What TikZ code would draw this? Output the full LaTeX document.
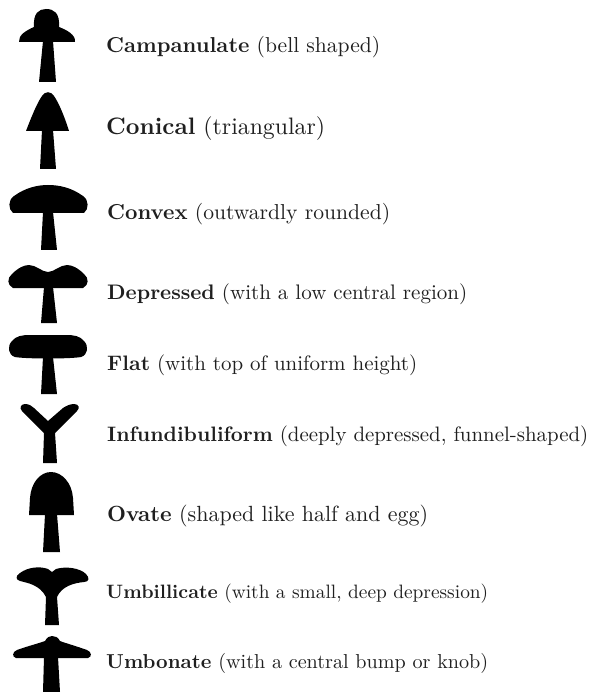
\documentclass[tikz,border=0pt]{standalone}
\usepackage{graphicx}
\begin{document}
\begin{tikzpicture}[x=1pt,y=-1pt,
  mushroom/.style={fill=black,draw=none},
  caption/.style={anchor=base west,inner sep=0pt,text=black!88}]
\useasboundingbox (0,0) rectangle (596,692);

% Campanulate
\fill[mushroom] (43,41) -- (39,82) -- (56,82) -- (53,41) -- cycle;
\fill[mushroom] (19,42) .. controls (18,35) and (27,30) .. (34,27)
  .. controls (33,13) and (39,9) .. (46,9) .. controls (54,9) and (60,13) .. (59,27)
  .. controls (67,30) and (76,35) .. (75,42) -- cycle;

% Conical
\fill[mushroom] (42,130) -- (40,169) -- (56,169) -- (53,130) -- cycle;
\fill[mushroom] (26,131) .. controls (31,118) and (37,103) .. (42,96)
  .. controls (45,91) and (51,91) .. (54,96)
  .. controls (59,103) and (65,118) .. (69,131) -- cycle;

% Convex
\fill[mushroom] (43,212) -- (41,250) -- (57,250) -- (53,212) -- cycle;
\fill[mushroom] (13,213) .. controls (8,209) and (8,200) .. (14,196)
  .. controls (25,188) and (37,185) .. (48,185)
  .. controls (60,185) and (72,188) .. (83,196)
  .. controls (89,200) and (89,209) .. (84,213) -- cycle;

% Depressed
\fill[mushroom] (44,287) -- (41,323) -- (57,323) -- (53,287) -- cycle;
\fill[mushroom] (13,288) .. controls (7,285) and (7,278) .. (12,274)
  .. controls (18,268) and (24,265) .. (29,265)
  .. controls (36,265) and (42,272) .. (48,272)
  .. controls (54,272) and (60,265) .. (67,265)
  .. controls (72,265) and (78,268) .. (84,274)
  .. controls (89,278) and (89,285) .. (83,288) -- cycle;

% Flat
\fill[mushroom] (43,357) -- (41,394) -- (57,394) -- (53,357) -- cycle;
\fill[mushroom] (15,357) .. controls (8,355) and (7,346) .. (12,341)
  .. controls (16,336) and (22,335) .. (30,335) -- (66,335)
  .. controls (74,335) and (80,336) .. (84,341)
  .. controls (89,346) and (88,355) .. (81,357)
  .. controls (70,359) and (26,359) .. (15,357) -- cycle;

% Infundibuliform
\fill[mushroom] (43,463) -- (44,433) -- (22,411)
  .. controls (19,408) and (21,404) .. (25,404)
  .. controls (29,404) and (32,406) .. (34,408) -- (48,421) -- (63,408)
  .. controls (66,406) and (70,404) .. (74,404)
  .. controls (79,404) and (80,408) .. (77,411) -- (55,433) -- (57,463) -- cycle;

% Ovate
\fill[mushroom] (45,514) -- (43,552) -- (60,552) -- (57,514) -- cycle;
\fill[mushroom] (29,515) -- (30,498) .. controls (31,483) and (40,472) .. (51,472)
  .. controls (62,472) and (72,483) .. (73,498) -- (74,515) -- cycle;

% Umbillicate
\fill[mushroom] (45,625) -- (46,597) .. controls (40,585) and (28,583) .. (20,581)
  .. controls (16,580) and (15,576) .. (20,573)
  .. controls (28,567) and (40,566) .. (48,569) -- (52,572) -- (56,569)
  .. controls (66,566) and (80,568) .. (86,574)
  .. controls (90,578) and (89,582) .. (84,582)
  .. controls (74,583) and (62,586) .. (57,597) -- (59,625) -- cycle;

% Umbonate
\fill[mushroom] (44,657) -- (43,692) -- (60,692) -- (58,657) -- cycle;
\fill[mushroom] (16,658) .. controls (12,657) and (12,652) .. (17,650)
  .. controls (28,646) and (40,643) .. (45,641)
  .. controls (47,637) and (50,636) .. (52,636)
  .. controls (55,636) and (58,637) .. (60,641)
  .. controls (65,643) and (76,646) .. (87,650)
  .. controls (92,652) and (92,657) .. (88,658) -- cycle;

% Captions
\node[caption] (campanulate) at (106,53)
  {\resizebox{274pt}{!}{\textbf{Campanulate} (bell shaped)}};
\node[caption] (conical) at (106,135)
  {\resizebox{219pt}{!}{\textbf{Conical} (triangular)}};
\node[caption] (convex) at (107,220)
  {\resizebox{283pt}{!}{\textbf{Convex} (outwardly rounded)}};
\node[caption] (depressed) at (107,299)
  {\resizebox{360pt}{!}{\textbf{Depressed} (with a low central region)}};
\node[caption] (flat) at (107,370)
  {\resizebox{310pt}{!}{\textbf{Flat} (with top of uniform height)}};
\node[caption] (infundibuliform) at (107,441)
  {\resizebox{481pt}{!}{\textbf{Infundibuliform} (deeply depressed, funnel-shaped)}};
\node[caption] (ovate) at (107,521)
  {\resizebox{321pt}{!}{\textbf{Ovate} (shaped like half and egg)}};
\node[caption] (umbillicate) at (106,598)
  {\resizebox{382pt}{!}{\textbf{Umbillicate} (with a small, deep depression)}};
\node[caption] (umbonate) at (106,668)
  {\resizebox{382pt}{!}{\textbf{Umbonate} (with a central bump or knob)}};
\end{tikzpicture}
\end{document}
